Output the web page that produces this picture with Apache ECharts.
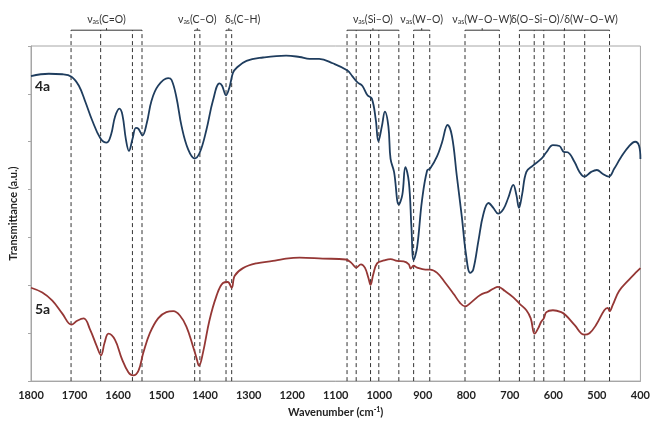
<!DOCTYPE html>
<html>
<head>
<meta charset="utf-8">
<script src="https://cdn.jsdelivr.net/npm/echarts@6/dist/echarts.min.js"></script>
<style>
  html, body { margin: 0; padding: 0; background: #fff; }
  #main { width: 653px; height: 423px; }
</style>
</head>
<body>
<div id="main"></div>
<script>
// 4a spectrum (wavenumber, transmittance a.u.)
var wn4a = [1800, 1759, 1728, 1707, 1690, 1675, 1660, 1641, 1626, 1616, 1607, 1597, 1590, 1582, 1575, 1567, 1559, 1553, 1544, 1534, 1523, 1508, 1485, 1477, 1466, 1454, 1439, 1424, 1412, 1397, 1382, 1367, 1361, 1352, 1344, 1336, 1328, 1305, 1267, 1214, 1183, 1160, 1138, 1107, 1073, 1062, 1050, 1039, 1027, 1017, 1008, 1002, 994, 987, 979, 974, 966, 955, 947, 940, 932, 926, 921, 913, 902, 890, 883, 867, 856, 843, 833, 822, 810, 801, 791, 784, 772, 761, 749, 738, 727, 715, 704, 692, 685, 679, 672, 662, 647, 628, 616, 601, 586, 576, 567, 551, 540, 529, 513, 500, 487, 473, 460, 445, 426, 412, 403, 400];
var t4a = [6.37, 6.42, 6.41, 6.36, 6.17, 5.83, 5.46, 5.08, 4.98, 5.15, 5.52, 5.69, 5.56, 5.05, 4.81, 5.05, 5.29, 5.27, 5.13, 5.39, 5.86, 6.17, 6.33, 6.29, 5.93, 5.32, 4.84, 4.65, 4.78, 5.25, 5.86, 6.22, 6.17, 5.97, 6.14, 6.44, 6.54, 6.69, 6.76, 6.80, 6.77, 6.73, 6.73, 6.64, 6.49, 6.37, 6.24, 6.17, 5.97, 5.90, 5.46, 5.01, 5.32, 5.63, 5.32, 4.64, 4.37, 3.69, 3.89, 4.47, 4.16, 3.21, 2.53, 2.80, 3.76, 4.40, 4.44, 4.70, 4.98, 5.35, 5.12, 4.30, 3.41, 2.67, 2.26, 2.33, 2.94, 3.48, 3.72, 3.62, 3.50, 3.59, 3.82, 4.10, 3.89, 3.62, 3.89, 4.37, 4.50, 4.64, 4.78, 4.93, 4.91, 4.79, 4.78, 4.57, 4.37, 4.27, 4.37, 4.41, 4.33, 4.27, 4.44, 4.67, 4.91, 5.00, 4.91, 4.64];

// 5a spectrum
var wn5a = [1800, 1774, 1751, 1728, 1707, 1694, 1679, 1664, 1649, 1639, 1631, 1622, 1607, 1591, 1576, 1565, 1553, 1542, 1527, 1508, 1489, 1473, 1458, 1443, 1428, 1420, 1414, 1405, 1390, 1375, 1359, 1348, 1339, 1332, 1313, 1282, 1244, 1221, 1183, 1130, 1077, 1063, 1053, 1042, 1033, 1025, 1020, 1014, 1005, 989, 974, 959, 944, 932, 928, 921, 913, 894, 883, 867, 848, 829, 814, 803, 788, 768, 749, 738, 727, 711, 692, 677, 662, 652, 643, 635, 628, 622, 616, 601, 582, 571, 551, 529, 517, 502, 483, 475, 471, 464, 449, 426, 409, 400];
var t5a = [1.95, 1.85, 1.68, 1.41, 1.18, 1.26, 1.31, 1.07, 0.73, 0.54, 0.80, 0.99, 0.86, 0.46, 0.18, 0.12, 0.22, 0.59, 1.00, 1.31, 1.44, 1.46, 1.37, 1.14, 0.73, 0.49, 0.32, 0.59, 1.27, 1.75, 2.05, 2.07, 1.95, 2.20, 2.36, 2.46, 2.51, 2.55, 2.58, 2.56, 2.54, 2.46, 2.37, 2.44, 2.37, 2.16, 2.01, 2.22, 2.46, 2.52, 2.55, 2.51, 2.50, 2.44, 2.35, 2.41, 2.37, 2.33, 2.33, 2.26, 2.05, 1.82, 1.63, 1.56, 1.65, 1.80, 1.87, 1.93, 1.97, 1.88, 1.75, 1.61, 1.48, 1.31, 0.99, 1.10, 1.24, 1.31, 1.44, 1.48, 1.44, 1.37, 1.17, 0.97, 1.00, 1.17, 1.48, 1.53, 1.46, 1.58, 1.88, 2.12, 2.28, 2.36];

// band assignments: dashed line positions per group + labels
var bandLines = [
    [1708, 1640, 1567, 1545],
    [1424, 1412],
    [1352, 1339],
    [1074, 1053, 1020, 1001, 955],
    [921, 884],
    [803, 724],
    [678, 644, 622, 575, 528, 471]
];
var bandSymbol = ['ν', 'ν', 'δ', 'ν', 'ν', 'ν', 'δ(O–Si–O)/δ'];
var bandSub = ['as', 'as', 's', 'as', 'as', 'as', ''];
var bandBond = ['(C=O)', '(C–O)', '(C–H)', '(Si–O)', '(W–O)', '(W–O–W)', '(W–O–W)'];

var xTicks = [1800, 1700, 1600, 1500, 1400, 1300, 1200, 1100, 1000, 900, 800, 700, 600, 500, 400];

function zip(a, b) {
    var out = []
    for (var i = 0; i < a.length; i++) out.push([a[i], b[i]])
    return out
}

var bracketY = 7.33   // top of the bracket, above plot frame
var font = 'Lato'
// the δs(C–H) label starts at its bracket instead of being centred on it
var labelAlign = ['center', 'center', 'left', 'center', 'center', 'center', 'center']

var chart = echarts.init(document.getElementById('main'))
chart.setOption({
    animation: false,
    textStyle: {fontFamily: font},
    grid: {left: 30, right: 10, top: 46, bottom: 34, show: true, borderColor: '#a6a6a6', borderWidth: 1},
    xAxis: {
        type: 'value', inverse: true, min: 400, max: 1800, interval: 100,
        axisLine: {lineStyle: {color: '#a6a6a6'}},
        axisTick: {show: false},
        splitLine: {show: false},
        axisLabel: {color: '#222', fontWeight: 'bold', fontSize: 11, margin: 9,
            formatter: function (v) { return xTicks.indexOf(v) >= 0 ? v : '' }},
        name: 'Wavenumber (cm{sup|-1})', nameLocation: 'middle', nameGap: 24,
        nameTextStyle: {color: '#222', fontWeight: 'bold', fontSize: 11,
            rich: {sup: {fontSize: 7, fontWeight: 'bold', color: '#222', verticalAlign: 'top', padding: [0, 0, 6, 0]}}}
    },
    yAxis: {
        type: 'value', min: 0, max: 7, interval: 1,
        axisLine: {show: true, lineStyle: {color: '#a6a6a6'}},
        axisTick: {show: true, length: 3, lineStyle: {color: '#a6a6a6'}},
        axisLabel: {show: false},
        splitLine: {show: false},
        name: 'Transmittance (a.u.)', nameLocation: 'middle', nameGap: 12,
        nameTextStyle: {color: '#222', fontWeight: 'bold', fontSize: 11}
    },
    series: [
        {
            type: 'custom',
            z: 1,
            silent: true,
            data: bandLines.map(function (g, i) { return [g[0], g[g.length - 1], i] }),
            encode: {x: [0, 1]},
            renderItem: function (params, api) {
                var i = api.value(2)
                var g = bandLines[i]
                var children = []
                for (var k = 0; k < g.length; k++) {
                    var p0 = api.coord([g[k], 0])
                    var p1 = api.coord([g[k], bracketY])
                    children.push({type: 'line', shape: {x1: p0[0], y1: p0[1], x2: p1[0], y2: p1[1]},
                        style: {stroke: '#333', lineWidth: 1, lineDash: [4, 3]}})
                }
                var a = api.coord([g[0], bracketY])
                var b = api.coord([g[g.length - 1], bracketY])
                var mid = (a[0] + b[0]) / 2
                children.push({type: 'line', shape: {x1: a[0], y1: a[1], x2: b[0], y2: b[1]},
                    style: {stroke: '#333', lineWidth: 1}})
                children.push({type: 'line', shape: {x1: mid, y1: a[1], x2: mid, y2: a[1] - 2},
                    style: {stroke: '#333', lineWidth: 1}})
                var txt = '{n|' + bandSymbol[i] + '}' + (bandSub[i] ? '{s|' + bandSub[i] + '}' : '') + '{n|' + bandBond[i] + '}'
                var tx = labelAlign[i] === 'left' ? a[0] - 1 : mid
                children.push({type: 'text', x: tx, y: a[1] - 12,
                    style: {text: txt, align: labelAlign[i], verticalAlign: 'middle', fill: '#333', font: '10.5px ' + font,
                        rich: {
                            n: {fontSize: 10.5, fontFamily: font, lineHeight: 14, verticalAlign: 'bottom'},
                            s: {fontSize: 7, fontFamily: font, lineHeight: 10, verticalAlign: 'bottom'}
                        }}})
                return {type: 'group', children: children}
            }
        },
        {
            name: '4a', type: 'line', z: 3, smooth: 0.4, showSymbol: false,
            data: zip(wn4a, t4a),
            lineStyle: {color: '#1f3d5e', width: 1.8}
        },
        {
            name: '5a', type: 'line', z: 3, smooth: 0.4, showSymbol: false,
            data: zip(wn5a, t5a),
            lineStyle: {color: '#953735', width: 1.8}
        }
    ],
    graphic: [
        {type: 'text', left: 35, top: 79, style: {text: '4a', fill: '#222', font: 'bold 14px ' + font}},
        {type: 'text', left: 35, top: 302, style: {text: '5a', fill: '#222', font: 'bold 14px ' + font}}
    ]
})
</script>
</body>
</html>
